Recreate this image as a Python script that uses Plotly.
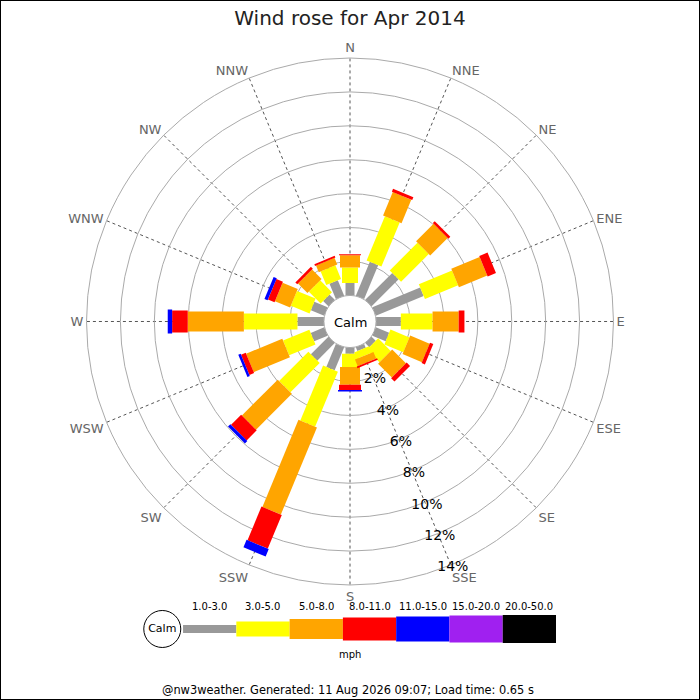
import plotly.graph_objects as go

# ---------------- data ----------------
directions = ["N", "NNE", "NE", "ENE", "E", "ESE", "SE", "SSE",
              "S", "SSW", "SW", "WSW", "W", "WNW", "NW", "NNW"]
bearings = [0, 22.5, 45, 67.5, 90, 112.5, 135, 157.5,
            180, 202.5, 225, 247.5, 270, 292.5, 315, 337.5]

band_labels = ["1.0-3.0", "3.0-5.0", "5.0-8.0", "8.0-11.0",
               "11.0-15.0", "15.0-20.0", "20.0-50.0"]

# percentage of time per direction for each speed band (mph)
spd_1_3 = [0.73, 2.16, 2.25, 3.05, 1.46, 0.85, 0.34, 0.24,
           0.36, 1.47, 1.46, 0.86, 1.56, 0.85, 0.44, 0.98]
spd_3_5 = [0.91, 2.82, 2.31, 2.12, 1.87, 1.21, 1.05, 0.41,
           0.78, 3.51, 2.44, 1.68, 3.16, 1.19, 0.98, 0.87]
spd_5_8 = [0.73, 1.50, 1.46, 1.81, 1.54, 1.24, 1.15, 0.42,
           1.05, 5.56, 2.99, 2.31, 3.31, 0.97, 0.79, 0.43]
spd_8_11 = [0.06, 0.18, 0.16, 0.53, 0.34, 0.21, 0.28, 0.11,
            0.31, 2.15, 0.84, 0.30, 0.92, 0.42, 0.16, 0.11]
spd_11_15 = [0, 0, 0, 0, 0, 0, 0, 0,
             0.09, 0.48, 0.20, 0.15, 0.26, 0.20, 0, 0]
spd_15_20 = [0, 0, 0, 0, 0, 0, 0, 0, 0, 0, 0, 0, 0, 0, 0, 0]
spd_20_50 = [0, 0, 0, 0, 0, 0, 0, 0, 0, 0, 0, 0, 0, 0, 0, 0]

radial_ticks = [2, 4, 6, 8, 10, 12, 14]
radial_tick_text = ["2%", "4%", "6%", "8%", "10%", "12%", "14%"]

# ---------------- styles ----------------
band_series = [spd_1_3, spd_3_5, spd_5_8, spd_8_11, spd_11_15, spd_15_20, spd_20_50]
band_colors = ["#999999", "#ffff00", "#ffa500", "#ff0000", "#0000ff", "#a020f0", "#000000"]
bar_widths = [9, 16, 20, 22, 24, 26, 28]
legend_heights = [8, 15, 20, 23, 25, 27, 28]
FONT = "DejaVu Sans"

fig = go.Figure()

# rose segments: each band drawn as thick radial line segments (stacked)
cum = [0.0] * len(directions)
for series, color, w, name in zip(band_series, band_colors, bar_widths, band_labels):
    rr, tt = [], []
    for i, v in enumerate(series):
        if v > 0:
            rr += [cum[i], cum[i] + v, None]
            tt += [bearings[i], bearings[i], None]
        cum[i] += v
    if rr:
        fig.add_trace(go.Scatterpolar(
            r=rr, theta=tt, mode="lines", name=name,
            line=dict(color=color, width=w),
            connectgaps=False, showlegend=False, hoverinfo="skip",
            subplot="polar"))

# radial percentage labels along SSE (on an invisible twin polar, nudged slightly)
fig.add_trace(go.Scatterpolar(
    r=radial_ticks, theta=[157.5] * len(radial_ticks), mode="text",
    text=radial_tick_text, textposition="middle center",
    textfont=dict(family=FONT, size=14, color="black"),
    cliponaxis=False, showlegend=False, hoverinfo="skip", subplot="polar2"))

# legend swatches (cartesian helper axis)
fig.add_trace(go.Bar(
    x=list(range(len(band_labels))), y=legend_heights,
    base=[-h / 2 for h in legend_heights], width=1,
    marker=dict(color=band_colors, line=dict(width=0)),
    showlegend=False, hoverinfo="skip", xaxis="x", yaxis="y"))
fig.add_trace(go.Scatter(
    x=[-0.89], y=[0], mode="markers+text", text=["Calm"],
    textposition="middle center",
    textfont=dict(family=FONT, size=11, color="black"),
    marker=dict(size=37, color="white", line=dict(color="black", width=1)),
    cliponaxis=False, showlegend=False, hoverinfo="skip", xaxis="x", yaxis="y"))

annotations = []
for i, lab in enumerate(band_labels):
    annotations.append(dict(x=i, y=22, xref="x", yref="y", text=lab, yanchor="middle",
                            showarrow=False, font=dict(family=FONT, size=10, color="black")))
annotations += [
    dict(x=0.5, y=1 - 322 / 700, xref="paper", yref="paper", text="Calm", showarrow=False,
         yanchor="middle", font=dict(family=FONT, size=13, color="black")),
    dict(x=0.5, y=1 - 654 / 700, xref="paper", yref="paper", text="mph", showarrow=False,
         yanchor="middle", font=dict(family=FONT, size=10, color="black")),
    dict(x=0.497, y=1 - 690 / 700, xref="paper", yref="paper", yanchor="middle",
         text="@nw3weather. Generated: 11 Aug 2026 09:07; Load time: 0.65 s",
         showarrow=False, font=dict(family=FONT, size=11.4, color="black")),
]

polar_common = dict(hole=0.099)
dx, dy = 2 / 700, -3 / 700

fig.update_layout(
    width=700, height=700, autosize=False,
    margin=dict(l=0, r=0, t=0, b=0),
    paper_bgcolor="white", plot_bgcolor="white",
    font=dict(family=FONT),
    title=dict(text="Wind rose for Apr 2014", x=0.5, xanchor="center",
               y=1 - 18 / 700, yanchor="middle", yref="container",
               font=dict(family=FONT, size=20, color="#222222")),
    polar=dict(
        domain=dict(x=[0.12357, 0.87643], y=[0.16429, 0.91714]),
        bgcolor="white", **polar_common,
        angularaxis=dict(rotation=90, direction="clockwise", tickmode="array",
                         tickvals=bearings, ticktext=directions, ticks="",
                         showgrid=True, gridcolor="#555555", griddash="dot", gridwidth=1,
                         showline=True, linecolor="#aaaaaa", linewidth=1,
                         tickfont=dict(family=FONT, size=13, color="#666666")),
        radialaxis=dict(range=[0, 14], tickmode="array", tickvals=radial_ticks,
                        showticklabels=False, showline=False, ticks="",
                        gridcolor="#aaaaaa", gridwidth=1),
    ),
    polar2=dict(
        domain=dict(x=[0.12357 + dx, 0.87643 + dx], y=[0.16429 + dy, 0.91714 + dy]),
        bgcolor="rgba(0,0,0,0)", **polar_common,
        angularaxis=dict(rotation=90, direction="clockwise", visible=False,
                         showgrid=False, showline=False, showticklabels=False, ticks=""),
        radialaxis=dict(range=[0, 14], visible=False, showgrid=False,
                        showline=False, showticklabels=False, ticks=""),
    ),
    xaxis=dict(domain=[0.2006, 0.7943], range=[-1.3, 6.5], visible=False, fixedrange=True),
    yaxis=dict(domain=[0.0586, 0.1443], range=[-30, 30], visible=False, fixedrange=True),
    annotations=annotations,
    shapes=[dict(type="rect", xref="paper", yref="paper", x0=0, y0=0, x1=1, y1=1,
                 line=dict(color="black", width=2), fillcolor="rgba(0,0,0,0)")],
)

fig.write_html("out.html", config={"displayModeBar": False},
               post_script="document.body.style.margin='0';document.body.style.padding='0';")
